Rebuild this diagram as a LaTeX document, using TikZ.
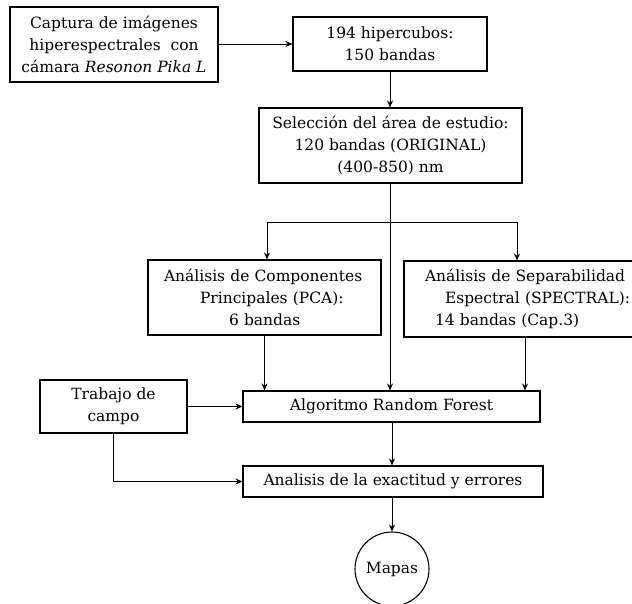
\documentclass[tikz,border=0pt]{standalone}
\usepackage{fontspec}
\setmainfont{DejaVu Serif}
\usetikzlibrary{arrows.meta}
\begin{document}
\begin{tikzpicture}[x=1pt,y=-1pt,
  box/.style={draw, line width=1.1pt, inner sep=0pt, align=center,
    font=\fontsize{15.5}{22}\selectfont},
  arr/.style={-{Stealth[length=7pt,width=6pt]}, line width=1pt},
  ln/.style={line width=1pt}]
\useasboundingbox (0,0) rectangle (632,603);
\node[box, minimum width=208pt, minimum height=75pt] (cap) at (114,44.5)
  {Captura de imágenes\\hiperespectrales\ \ con\\cámara \textit{Resonon Pika L}};
\node[box, minimum width=194pt, minimum height=54pt] (hip) at (390,44)
  {194 hipercubos:\\150 bandas};
\node[box, minimum width=263pt, minimum height=75pt] (sel) at (390.5,145.5)
  {Selección del área de estudio:\\120 bandas (ORIGINAL)\\(400-850) nm};
\node[box, minimum width=233pt, minimum height=75pt, inner xsep=16pt, text width=201pt, align=left] (pca) at (264.5,297.5)
  {\mbox{Análisis de Componentes}\\\mbox{\hspace*{36pt}Principales (PCA):}\\\mbox{\hspace*{65pt}6 bandas}};
\node[box, minimum width=236pt, minimum height=76pt, inner xsep=21pt, text width=194pt, align=left] (spe) at (522,299)
  {\mbox{Análisis de Separabilidad}\\\mbox{\hspace*{20pt}Espectral (SPECTRAL):}\\\mbox{\hspace*{10pt}14 bandas (Cap.3)}};
\node[box, minimum width=147pt, minimum height=53pt] (tra) at (113.5,406.5)
  {Trabajo de\\campo};
\node[box, minimum width=297pt, minimum height=31pt] (rf) at (391.5,406.5)
  {Algoritmo Random Forest};
\node[box, minimum width=300pt, minimum height=31pt] (ana) at (393,481.5)
  {Analisis de la exactitud y errores};
\node[box, circle, minimum size=74pt] (map) at (392,569) {Mapas};
\coordinate (spine) at (390,0);
\coordinate (bl) at (267,222);
\coordinate (br) at (517,222);
\coordinate (rfx) at (392,0);
\draw[arr] (cap.east |- hip.west) -- (hip.west);
\draw[arr] (hip.south -| spine) -- (sel.north -| spine);
\draw[arr] (sel.south -| spine) -- (rf.north -| spine);
\draw[ln] (bl) -- (br);
\draw[arr] (bl) -- (bl |- pca.north);
\draw[arr] (br) -- (br |- spe.north);
\draw[arr] (pca.south) -- (pca.south |- rf.north);
\draw[arr] ([xshift=3pt]spe.south) -- ([xshift=3pt]spe.south |- rf.north);
\draw[arr] (tra.east) -- (tra.east -| rf.west);
\draw[arr] (tra.south) |- (ana.west);
\draw[arr] (rf.south -| rfx) -- (ana.north -| rfx);
\draw[arr] (ana.south -| map.north) -- (map.north);
\end{tikzpicture}
\end{document}
